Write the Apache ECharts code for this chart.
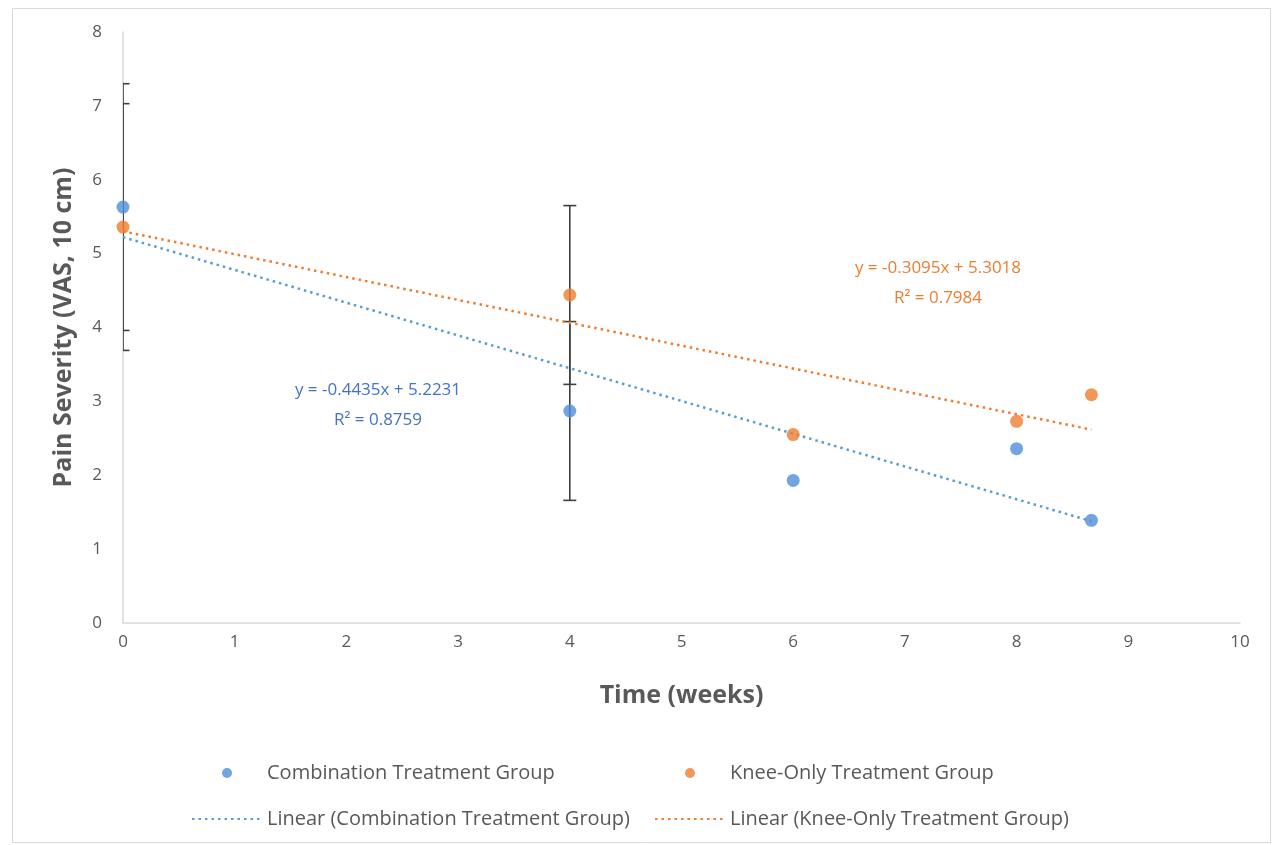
<!DOCTYPE html>
<html><head><meta charset="utf-8">
<script src="https://cdn.jsdelivr.net/npm/echarts@6/dist/echarts.min.js"></script>
<style>html,body{margin:0;padding:0;background:#fff}#c{width:1273px;height:845px}</style>
</head><body><div id="c"></div>
<script>
const weeks = [0, 4, 6, 8, 8.67];
const combination = [5.63, 2.87, 1.93, 2.36, 1.39];
const kneeOnly = [5.36, 4.44, 2.55, 2.73, 3.09];
const combinationErr = [1.67, 1.21, null, null, null];
const kneeOnlyErr = [1.67, 1.21, null, null, null];
const combTrend = { slope: -0.4435, intercept: 5.2231, r2: 0.8759 };
const kneeTrend = { slope: -0.3095, intercept: 5.3018, r2: 0.7984 };
const xTicks = [0,1,2,3,4,5,6,7,8,9,10];
const yTicks = [0,1,2,3,4,5,6,7,8];

const names = ['Combination Treatment Group','Knee-Only Treatment Group',
  'Linear (Combination Treatment Group)','Linear (Knee-Only Treatment Group)'];
const BLUE = '#4F8FD8', ORANGE = '#ED7D31', TXT = '#595959';
const FONT = '"Open Sans", "DejaVu Sans", sans-serif';

function pts(xs, ys){ return xs.map((x,i)=>[x, ys[i]]); }
function errPts(xs, ys, es){ const r=[]; xs.forEach((x,i)=>{ if(es[i]!=null) r.push([x, ys[i], es[i]]); }); return r; }
function trend(c){ const x0 = weeks[0], x1 = weeks[weeks.length-1];
  return [[x0, c.slope*x0 + c.intercept],[x1, c.slope*x1 + c.intercept]]; }
function fmtEq(c){ return 'y = ' + c.slope.toFixed(4) + 'x + ' + c.intercept.toFixed(4); }

function errRender(params, api){
  const x = api.value(0), y = api.value(1), e = api.value(2);
  const top = api.coord([x, y + e]), bot = api.coord([x, y - e]);
  const hw = 6.5;
  const st = { stroke: '#3F3F3F', lineWidth: 1.6 };
  return { type: 'group', children: [
    { type:'line', shape:{x1:top[0],y1:top[1],x2:bot[0],y2:bot[1]}, style: st },
    { type:'line', shape:{x1:top[0]-hw,y1:top[1],x2:top[0]+hw,y2:top[1]}, style: st },
    { type:'line', shape:{x1:bot[0]-hw,y1:bot[1],x2:bot[0]+hw,y2:bot[1]}, style: st }
  ]};
}

const chart = echarts.init(document.getElementById('c'));
const legendBase = { orient:'horizontal', itemWidth:70, itemHeight:10, itemGap:0,
  textStyle:{ color: TXT, fontSize: 20, fontFamily: FONT } };
chart.setOption({
  animation: false,
  textStyle: { fontFamily: FONT },
  grid: { left: 123, right: 33, top: 32, bottom: 222 },
  xAxis: { type:'value', min: xTicks[0], max: xTicks[xTicks.length-1], interval: 1,
    name: 'Time (weeks)', nameLocation:'middle', nameGap: 60,
    nameTextStyle: { color: TXT, fontSize: 25, fontWeight: 'bold', fontFamily: FONT },
    axisLine: { show: true, lineStyle: { color: '#D9D9D9', width: 1.5 } },
    axisTick: { show: false }, splitLine: { show: false },
    axisLabel: { color: TXT, fontSize: 17, margin: 11, fontFamily: FONT } },
  yAxis: { type:'value', min: yTicks[0], max: yTicks[yTicks.length-1], interval: 1,
    name: 'Pain Severity (VAS, 10 cm)', nameLocation:'middle', nameGap: 47, nameRotate: 90,
    nameTextStyle: { color: TXT, fontSize: 25, fontWeight: 'bold', fontFamily: FONT },
    axisLine: { show: true, lineStyle: { color: '#D9D9D9', width: 1.5 } },
    axisTick: { show: false }, splitLine: { show: false },
    axisLabel: { color: TXT, fontSize: 17, margin: 21, fontFamily: FONT } },
  legend: [
    Object.assign({}, legendBase, { data:[{name:names[0], icon:'circle'}], left: 217, top: 758 }),
    Object.assign({}, legendBase, { data:[{name:names[1], icon:'circle'}], left: 680, top: 758 }),
    Object.assign({}, legendBase, { data:[{name:names[2], itemStyle:{opacity:0}}], left: 186, top: 804 }),
    Object.assign({}, legendBase, { data:[{name:names[3], itemStyle:{opacity:0}}], left: 649, top: 804 })
  ],
  graphic: [
    { type:'rect', left: 10, top: 6, shape:{ width: 1258, height: 834 },
      style:{ fill:'none', stroke:'#D9D9D9', lineWidth:1 }, silent:true, z: -1 },
    { type:'text', x: 378, y: 405, style:{ text: fmtEq(combTrend) + '\nR² = ' + combTrend.r2.toFixed(4),
      fill: '#4472C4', font: '17px ' + FONT, align:'center', verticalAlign:'middle', lineHeight: 30 } },
    { type:'text', x: 938, y: 283, style:{ text: fmtEq(kneeTrend) + '\nR² = ' + kneeTrend.r2.toFixed(4),
      fill: ORANGE, font: '17px ' + FONT, align:'center', verticalAlign:'middle', lineHeight: 30 } }
  ],
  series: [
    { type:'custom', name:'errComb', renderItem: errRender, data: errPts(weeks, combination, combinationErr), clip: true, z: 1 },
    { type:'custom', name:'errKnee', renderItem: errRender, data: errPts(weeks, kneeOnly, kneeOnlyErr), clip: true, z: 1 },
    { type:'line', name: names[2], data: trend(combTrend), symbol:'none', showSymbol:false,
      lineStyle:{ color: '#5B9BD5', width: 2.5, type: [2.5, 4] }, itemStyle:{ color:'#5B9BD5' }, z: 2 },
    { type:'line', name: names[3], data: trend(kneeTrend), symbol:'none', showSymbol:false,
      lineStyle:{ color: ORANGE, width: 2.5, type: [2.5, 4] }, itemStyle:{ color: ORANGE }, z: 2 },
    { type:'scatter', name: names[0], data: pts(weeks, combination), symbol:'circle', symbolSize: 13,
      itemStyle:{ color: BLUE }, z: 3 },
    { type:'scatter', name: names[1], data: pts(weeks, kneeOnly), symbol:'circle', symbolSize: 13,
      itemStyle:{ color: ORANGE }, z: 3 }
  ]
});
</script></body></html>
